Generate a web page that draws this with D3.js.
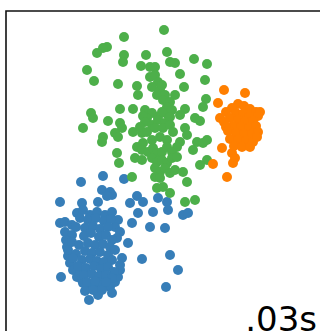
<!DOCTYPE html>
<html>
<head>
<meta charset="utf-8">
<script src="https://cdn.jsdelivr.net/npm/d3@7"></script>
<style>
  html, body { margin: 0; padding: 0; background: #fff; overflow: hidden; }
  svg { display: block; }
</style>
</head>
<body>
<div id="chart"></div>
<script>
// Scatter of three clusters (axes units)

const blueCluster = [
  [75,151],[97,157],[118,154],[96,143],[104,141],[106,138],[101,137],[54,131],[76,130],[92,131],
  [124,130],[131,137],[137,131],[152,135],[161,131],[132,120],[147,121],[126,110],[144,106],[159,105],
  [177,118],[182,120],[162,123],[122,90],[136,74],[164,78],[172,63],[160,46],[55,56],[83,33],
  [54,110],[59,111],[66,108],[59,101],[66,98],[71,120],[77,123],[84,118],[91,121],[99,118],
  [106,121],[112,113],[109,106],[114,101],[111,95],[64,70],[67,63],[71,56],[76,53],[84,48],
  [91,46],[97,50],[104,46],[109,51],[112,56],[114,63],[116,75],[114,68],[92,38],[106,40],
  [74,63],[77,50],[60,93],[62,77],[61,86],
  [74,115],[82,113],[90,115],[98,112],[105,114],[70,106],[79,105],[87,107],[94,104],[102,106],
  [78,97],[85,100],[93,96],[100,98],[106,93],[66,91],[73,88],[82,90],[89,88],[97,89],
  [104,86],[62,83],[70,79],[79,82],[86,80],[94,81],[102,78],[109,83],[67,75],[76,73],
  [84,74],[91,72],[98,71],[106,73],[72,67],[80,65],[88,67],[95,64],[102,66],[108,61],
  [78,58],[86,59],[93,57],[100,58],[106,55],[81,51],[89,52],[96,43],[79,42],[87,43],[100,51]
]

const greenCluster = [
  [158,303],[118,296],[101,286],[97,285],[91,280],[118,278],[117,271],[140,278],[161,281],[164,271],
  [169,270],[188,274],[201,269],[81,263],[88,252],[135,267],[144,266],[149,266],[174,259],[199,253],
  [112,249],[131,247],[132,238],[144,256],[149,258],[152,251],[146,246],[154,243],[156,248],[151,238],
  [159,238],[178,246],[169,238],[200,234],[197,226],[157,233],[164,231],[161,226],[114,224],[127,224],
  [139,223],[146,220],[141,215],[152,216],[161,219],[166,223],[179,224],[85,220],[87,215],[102,212],
  [189,215],[194,212],[77,205],[114,210],[116,205],[109,200],[112,196],[97,196],[96,191],[127,201],
  [136,200],[137,217],[156,221],[139,211],[146,208],[152,213],[159,210],[164,216],[174,218],[134,206],
  [141,201],[149,205],[157,205],[164,208],[167,201],[154,196],[161,193],[146,193],[137,190],[179,205],
  [181,198],[174,191],[171,186],[191,191],[197,190],[201,193],[187,183],[111,180],[113,170],[131,186],
  [136,183],[142,181],[147,185],[151,180],[156,181],[161,186],[166,181],[129,175],[136,173],[146,175],
  [151,171],[156,173],[161,170],[166,175],[171,176],[149,165],[154,161],[159,165],[164,160],[169,163],
  [177,161],[201,173],[194,168],[126,156],[149,156],[154,155],[181,151],[151,145],[157,146],[164,140],
  [179,131],[189,133]
]

const orangeCluster = [
  [218,243],[239,240],[212,230],[216,185],[226,180],[229,175],[227,170],[207,169],[221,156],
  [232,229],[238,227],[226,225],[244,224],[250,221],[254,221],[220,221],[230,220],[237,219],[243,216],
  [252,217],[214,215],[224,215],[232,213],[239,211],[247,212],[218,211],[227,207],[235,206],[243,205],
  [250,207],[220,206],[222,202],[230,200],[238,199],[246,199],[252,201],[224,194],[232,193],[240,192],
  [247,191],[228,187],[236,186],[244,186],[251,196]
]

const series = [
  { name: 'blue', color: '#377eb8', points: blueCluster },
  { name: 'green', color: '#4daf4a', points: greenCluster },
  { name: 'orange', color: '#ff7f00', points: orangeCluster }
]

const timeLabel = '.03s'

const width = 320
const height = 331

const svg = d3.select('#chart')
  .append('svg')
  .attr('width', width)
  .attr('height', height)

const x = d3.scaleLinear().domain([0, 314]).range([6, 320])
const y = d3.scaleLinear().domain([0, 322]).range([333, 11])

// points
series.forEach(s => {
  svg.append('g')
    .attr('class', 'cluster-' + s.name)
    .selectAll('circle')
    .data(s.points)
    .join('circle')
    .attr('cx', d => x(d[0]))
    .attr('cy', d => y(d[1]))
    .attr('r', 5)
    .attr('fill', s.color)
})

// axes frame (only left and top edges fall inside the crop)
svg.append('path')
  .attr('d', `M${x(0)},${height + 5} L${x(0)},${y(322)} L${width + 5},${y(322)}`)
  .attr('fill', 'none')
  .attr('stroke', '#111')
  .attr('stroke-width', 1.6)

// timing label
svg.append('text')
  .attr('x', 317)
  .attr('y', 331)
  .attr('text-anchor', 'end')
  .attr('font-family', 'DejaVu Sans')
  .attr('font-size', 34)
  .attr('fill', '#000')
  .text(timeLabel)
</script>
</body>
</html>
